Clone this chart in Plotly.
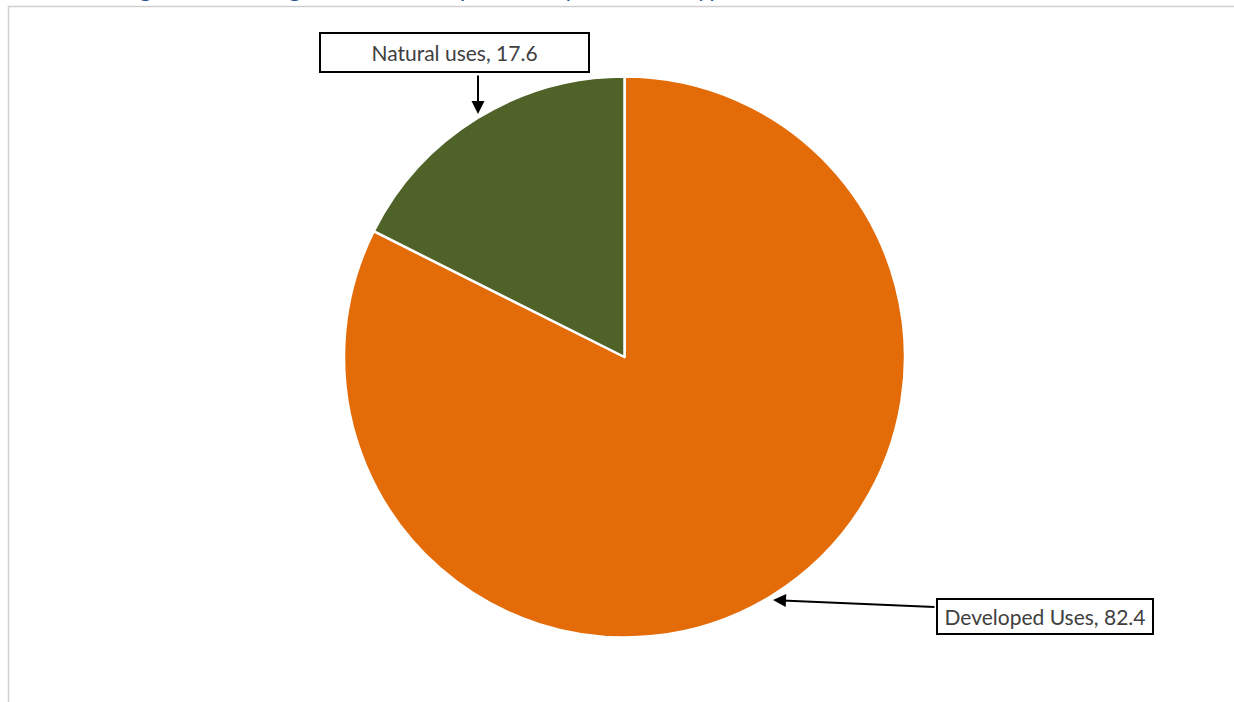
import plotly.graph_objects as go

W, H = 1234, 702

labels = ["Developed Uses", "Natural uses"]
values = [82.4, 17.6]
colors = ["#E36C09", "#4F6228"]
label_texts = [f"{l}, {v}" for l, v in zip(labels, values)]
title_text = "Figure 2: Existing Land Use Composition by Land Use Type"


def px(x):
    return x / W


def py(y):
    return 1 - y / H


fig = go.Figure()
fig.add_trace(go.Pie(
    labels=labels,
    values=values,
    marker=dict(colors=colors, line=dict(color="white", width=2.5)),
    sort=False,
    direction="clockwise",
    rotation=0,
    textinfo="none",
    hoverinfo="label+value",
    showlegend=False,
    domain=dict(x=[px(344), px(905)], y=[py(638), py(76)]),
))

font = dict(family="Lato, Carlito, 'Open Sans', sans-serif", size=21, color="#404040")

annotations = [
    # title (mostly cut off at the top, as in the source)
    dict(text=title_text, x=px(118), y=py(4), xref="paper", yref="paper",
         xanchor="left", yanchor="bottom", showarrow=False,
         font=dict(family="Lato, sans-serif", size=24, color="#2F5597")),
    # label boxes
    dict(text=label_texts[1], x=px(454.5), y=py(52.5), xref="paper", yref="paper",
         xanchor="center", yanchor="middle", showarrow=False,
         width=267, height=37, borderpad=0, borderwidth=2,
         bordercolor="black", bgcolor="white", font=font),
    dict(text=label_texts[0], x=px(1045), y=py(616.5), xref="paper", yref="paper",
         xanchor="center", yanchor="middle", showarrow=False,
         width=214, height=33, borderpad=0, borderwidth=2,
         bordercolor="black", bgcolor="white", font=font),
    # arrows
    dict(text="", x=px(478), y=py(114), xref="paper", yref="paper",
         ax=0, ay=-40, showarrow=True, arrowhead=2, arrowsize=1.3,
         arrowwidth=2, arrowcolor="black"),
    dict(text="", x=px(773), y=py(600), xref="paper", yref="paper",
         ax=163, ay=7, showarrow=True, arrowhead=2, arrowsize=1.3,
         arrowwidth=2, arrowcolor="black"),
]

shapes = [
    dict(type="rect", xref="paper", yref="paper",
         x0=px(8.5), y0=-0.05, x1=1.05, y1=py(6.5),
         line=dict(color="#D0D0D0", width=1.5), fillcolor="rgba(0,0,0,0)"),
]

fig.update_layout(
    width=W, height=H,
    margin=dict(l=0, r=0, t=0, b=0),
    paper_bgcolor="white",
    plot_bgcolor="white",
    annotations=annotations,
    shapes=shapes,
)

fig.write_html("out.html")
